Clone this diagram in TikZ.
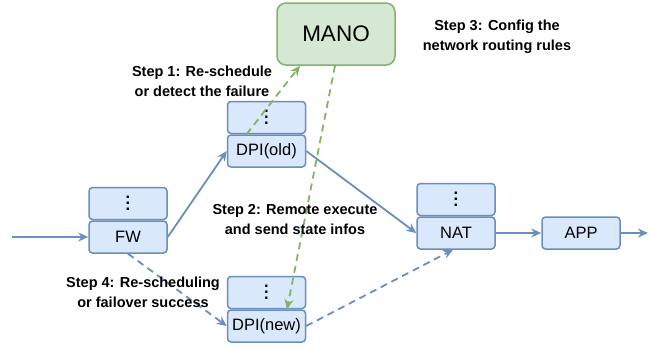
\documentclass[tikz,border=0pt]{standalone}
\usepackage{fontspec}
\setmainfont{Liberation Sans}
\usetikzlibrary{positioning,arrows.meta}
\definecolor{boxfill}{HTML}{DAE8FC}
\definecolor{boxline}{HTML}{6C8EBF}
\definecolor{manofill}{HTML}{D5E8D4}
\definecolor{manoline}{HTML}{82B366}
\newcommand\moredots{\vbox{\baselineskip=6pt\lineskiplimit=0pt\hbox{\bfseries .}\hbox{\bfseries .}\hbox{\bfseries .}}}

\begin{document}
\begin{tikzpicture}[x=1pt,y=-1pt,
   blk/.style={draw=boxline,fill=boxfill,line width=1.5pt,rounded corners=3.5pt,
      minimum width=78pt,minimum height=32pt,inner sep=0pt,
      font=\fontsize{16.5}{19}\selectfont},
   flow/.style={draw=boxline,line width=1.8pt,-{Stealth[length=10pt,width=9pt]}},
   ctrl/.style={draw=manoline,line width=1.8pt,dash pattern=on 7pt off 5pt,
      -{Stealth[length=10pt,width=9pt]}},
   steptext/.style={align=center,font=\fontsize{14.5}{20}\selectfont\bfseries}]
\useasboundingbox (0,0) rectangle (650,349);

% the chain of functions
\node[blk] (fw) at (128,237) {FW};
\node[blk,above=0pt of fw] (fwd) {\moredots};
\node[blk] (dpiold) at (266.5,151) {DPI(old)};
\node[blk,above=0pt of dpiold] (dpioldd) {\moredots};
\node[blk] (dpinew) at (266.5,326) {DPI(new)};
\node[blk,above=0pt of dpinew] (dpinewd) {\moredots};
\node[blk] (nat) at (456,233) {NAT};
\node[blk,above=0pt of nat] (natd) {\moredots};
\node[blk] (app) at (581,233) {APP};
\node[draw=manoline,fill=manofill,line width=1.5pt,rounded corners=9pt,
   minimum width=118pt,minimum height=62pt,
   font=\fontsize{22.5}{25}\selectfont] (mano) at (336,34) {MANO};

\coordinate (in) at (12,237);
\coordinate (out) at (648,233);

\draw[flow] (in) -- (fw);
\draw[flow] (fw.east) -- (dpiold.west);
\draw[flow] (dpiold.east) -- (nat.west);
\draw[flow] (nat) -- (app);
\draw[flow] (app) -- (out);
\draw[flow,dash pattern=on 7pt off 5pt] (fw.south) -- (dpinew.west);
\draw[flow,dash pattern=on 7pt off 5pt] (dpinew.east) -- ([xshift=-3pt]nat.south);

\draw[ctrl] ([xshift=-20pt]dpiold.north) -- ([xshift=-36pt]mano.south);
\draw[ctrl] ([xshift=-1pt]mano.south) -- ([xshift=20.5pt]dpinew.north);

% the steps
\node[steptext] (s1) at (202,81) {Step 1: Re-schedule\\or detect the failure};
\node[steptext] (s2) at (295,220) {Step 2: Remote execute\\and send state infos};
\node[steptext] (s3) at (497,37) {Step 3: Config the\\network routing rules};
\node[steptext] (s4) at (143,292) {Step 4: Re-scheduling\\or failover success};
\end{tikzpicture}
\end{document}
